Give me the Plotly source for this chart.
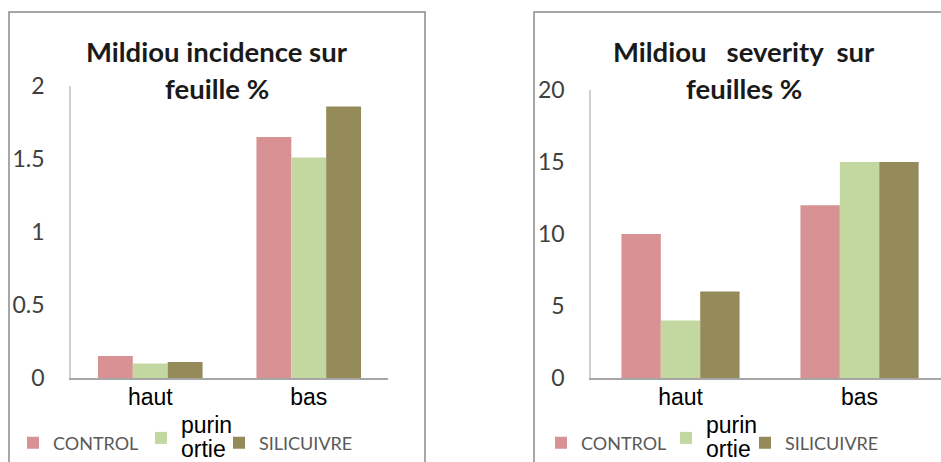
import plotly.graph_objects as go

categories = ["haut", "bas"]
series_names = ["CONTROL", "purin ortie", "SILICUIVRE"]
incidence_control = [0.15, 1.65]
incidence_purin = [0.10, 1.51]
incidence_silicuivre = [0.11, 1.86]
severity_control = [10.0, 12.0]
severity_purin = [4.0, 15.0]
severity_silicuivre = [6.0, 15.0]
incidence_ticks = [0, 0.5, 1, 1.5, 2]
severity_ticks = [0, 5, 10, 15, 20]
title_left = ["Mildiou incidence sur", "feuille %"]
title_right = ["Mildiou&nbsp;&nbsp; severity&nbsp; sur", "feuilles %"]

colors = ["#d99294", "#c2d8a0", "#948a5a"]

W, H = 941, 462
def px(x):
    return x / W
def py(y):
    return 1 - y / H

LEG_FONT = "Lato, 'Open Sans', sans-serif"
ARIAL = "Liberation Sans, Arial, sans-serif"

def legend_name(n):
    if n == "purin ortie":
        st = "font-family:Liberation Sans, Arial;font-size:23px;color:#000000"
        return f"<span style='{st}'>purin</span><br><span style='{st}'>ortie</span>"
    return n

# one legend per entry so each sits where the reference shows it
leg_x_left = [13, 141, 219]
leg_x_right = [541, 666, 745]
leg_y = [443, 438, 443]

fig = go.Figure()
left_vals = [incidence_control, incidence_purin, incidence_silicuivre]
right_vals = [severity_control, severity_purin, severity_silicuivre]
legend_layout = {}
for i, n in enumerate(series_names):
    lid = "legend" if i == 0 else f"legend{i + 1}"
    fig.add_trace(go.Bar(x=categories, y=left_vals[i], name=legend_name(n),
                         marker=dict(color=colors[i], line=dict(width=0)),
                         xaxis="x", yaxis="y", legend=lid))
    legend_layout[lid] = dict(x=px(leg_x_left[i]), y=py(leg_y[i]))
for i, n in enumerate(series_names):
    lid = f"legend{i + 4}"
    fig.add_trace(go.Bar(x=categories, y=right_vals[i], name=legend_name(n),
                         marker=dict(color=colors[i], line=dict(width=0)),
                         xaxis="x2", yaxis="y2", legend=lid))
    legend_layout[lid] = dict(x=px(leg_x_right[i]), y=py(leg_y[i]))

tickfont = dict(family=LEG_FONT, size=23, color="#404040")
catfont = dict(family=ARIAL, size=23, color="#000000")

fig.update_layout(
    width=W, height=H,
    margin=dict(l=0, r=0, t=0, b=0, autoexpand=False),
    paper_bgcolor="white", plot_bgcolor="rgba(0,0,0,0)",
    barmode="group", bargap=0.34, bargroupgap=0,
    xaxis=dict(domain=[px(71), px(388)], range=[-0.5, 1.5], anchor="y",
               showline=True, linecolor="#a6a6a6", linewidth=1.5,
               showgrid=False, zeroline=False, ticks="", ticklabelstandoff=-2,
               tickfont=catfont, automargin=False),
    yaxis=dict(domain=[py(378), py(86)], range=[0, 2.0], anchor="x",
               showline=True, linecolor="#cfcfcf", linewidth=1.5,
               showgrid=False, zeroline=False, tickvals=incidence_ticks,
               ticktext=[f"{v:g}" for v in incidence_ticks],
               ticks="outside", ticklen=20, tickcolor="rgba(0,0,0,0)",
               tickfont=tickfont, automargin=False),
    xaxis2=dict(domain=[px(591), 1.0], range=[-0.5, 1.455], anchor="y2",
                showline=True, linecolor="#a6a6a6", linewidth=1.5,
                showgrid=False, zeroline=False, ticks="", ticklabelstandoff=-2,
                tickfont=catfont, automargin=False),
    yaxis2=dict(domain=[py(378), py(90)], range=[0, 20], anchor="x2",
                showline=True, linecolor="#cfcfcf", linewidth=1.5,
                showgrid=False, zeroline=False, tickvals=severity_ticks,
                ticks="outside", ticklen=20, tickcolor="rgba(0,0,0,0)",
                tickfont=tickfont, automargin=False),
    showlegend=True,
)
for lid, pos in legend_layout.items():
    fig.update_layout({lid: dict(orientation="h", x=pos["x"], y=pos["y"],
                                 xanchor="left", yanchor="middle",
                                 font=dict(family=LEG_FONT, size=18, color="#595959"),
                                 bgcolor="rgba(0,0,0,0)", valign="middle")})

title_font = dict(family=LEG_FONT, size=27.5, color="#1a1a1a", weight="bold")
for cx, lines in [(217, title_left), (744, title_right)]:
    for j, t in enumerate(lines):
        fig.add_annotation(x=px(cx), y=py(52 + 36 * j), xref="paper", yref="paper",
                           text=t, showarrow=False, xanchor="center", yanchor="middle",
                           font=title_font)

border = "#8a8a8a"
fig.add_shape(type="path", xref="paper", yref="paper",
              path=f"M {px(9)},{py(470)} L {px(9)},{py(12)} L {px(425)},{py(12)} L {px(425)},{py(470)}",
              line=dict(color=border, width=1.5))
fig.add_shape(type="path", xref="paper", yref="paper",
              path=f"M {px(534)},{py(470)} L {px(534)},{py(12)} L {px(960)},{py(12)}",
              line=dict(color=border, width=1.5))

fig.write_html("out.html", config={"displayModeBar": False},
               post_script="document.body.style.margin='0';document.body.style.overflow='hidden';")
